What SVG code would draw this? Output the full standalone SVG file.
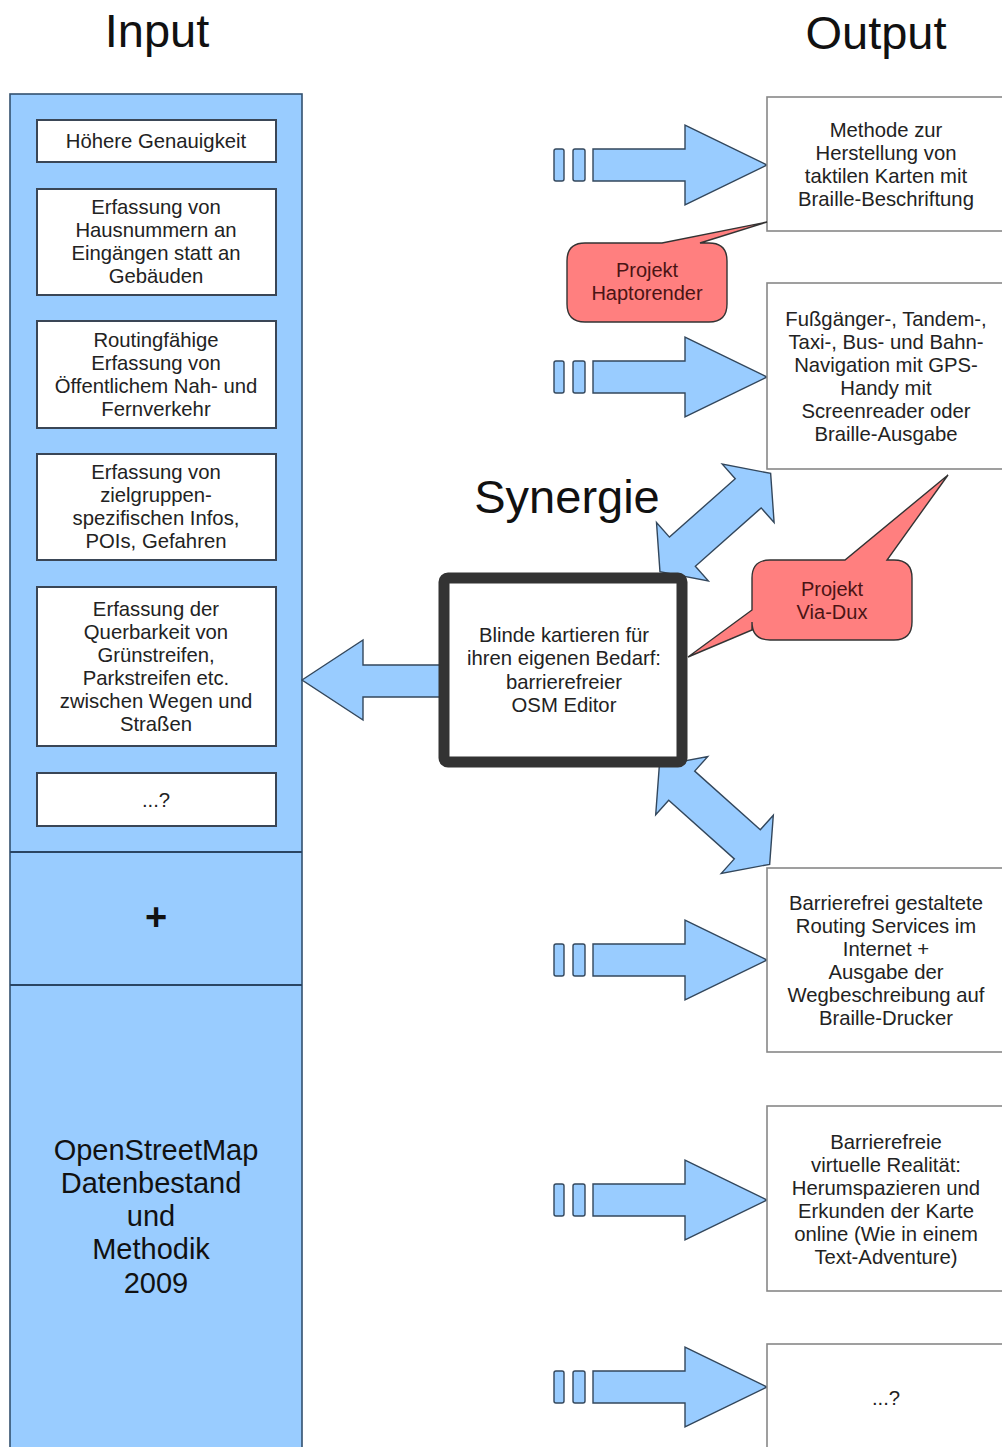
<svg xmlns="http://www.w3.org/2000/svg" width="1002" height="1447" viewBox="0 0 1002 1447">
<style>
text{font-family:"Liberation Sans",Arial,sans-serif;fill:#222;text-anchor:middle}
.t{font-size:20.3px}
.title{font-size:47px;fill:#111}
.blue{fill:#99ccff;stroke:#33516f;stroke-width:1.6}
.inbox{fill:#fff;stroke:#3a4656;stroke-width:2}
.outbox{fill:#fff;stroke:#888;stroke-width:1.6}
.arr{fill:#99ccff;stroke:#33475c;stroke-width:1.4;stroke-linejoin:miter}
.call{fill:#ff7f7f;stroke:#333;stroke-width:1.4}
.ct{font-size:20px;fill:#4a1414}
</style>
<defs>
<g id="fwd">
<rect class="arr" x="554" y="-16" width="10" height="32" rx="2"/>
<rect class="arr" x="573" y="-16" width="12" height="32" rx="2"/>
<path class="arr" d="M593 -16 H685 V-40 L767 0 L685 40 V16 H593 Z"/>
</g>
<path id="dbl" class="arr" d="M-74 0 L-44 -39 L-44 -19.5 L44 -19.5 L44 -39 L74 0 L44 39 L44 19.5 L-44 19.5 L-44 39 Z"/>
</defs>

<text class="title" x="157" y="47">Input</text>
<text class="title" x="876" y="49">Output</text>
<text class="title" x="567" y="513">Synergie</text>

<g id="input-panel">
<rect class="blue" x="10" y="94" width="292" height="1365"/>
<line x1="10" y1="852" x2="302" y2="852" stroke="#2a4563" stroke-width="2"/>
<line x1="10" y1="985" x2="302" y2="985" stroke="#2a4563" stroke-width="2"/>
<text x="156" y="930" style="font-size:38px;font-weight:bold;fill:#111">+</text>
<text x="156" y="1160" style="font-size:29px;fill:#111">OpenStreetMap</text>
<text x="151" y="1193" style="font-size:29px;fill:#111">Datenbestand</text>
<text x="151" y="1226" style="font-size:29px;fill:#111">und</text>
<text x="151" y="1259" style="font-size:29px;fill:#111">Methodik</text>
<text x="156" y="1293" style="font-size:29px;fill:#111">2009</text>
</g>

<g id="in1"><rect class="inbox" x="37" y="120" width="239" height="42"/>
<text class="t" x="156" y="148">Höhere Genauigkeit</text></g>
<g id="in2"><rect class="inbox" x="37" y="189" width="239" height="106"/>
<text class="t" x="156" y="214">Erfassung von</text>
<text class="t" x="156" y="237">Hausnummern an</text>
<text class="t" x="156" y="260">Eingängen statt an</text>
<text class="t" x="156" y="283">Gebäuden</text></g>
<g id="in3"><rect class="inbox" x="37" y="321" width="239" height="107"/>
<text class="t" x="156" y="347">Routingfähige</text>
<text class="t" x="156" y="370">Erfassung von</text>
<text class="t" x="156" y="393">Öffentlichem Nah- und</text>
<text class="t" x="156" y="416">Fernverkehr</text></g>
<g id="in4"><rect class="inbox" x="37" y="454" width="239" height="106"/>
<text class="t" x="156" y="479">Erfassung von</text>
<text class="t" x="156" y="502">zielgruppen-</text>
<text class="t" x="156" y="525">spezifischen Infos,</text>
<text class="t" x="156" y="548">POIs, Gefahren</text></g>
<g id="in5"><rect class="inbox" x="37" y="587" width="239" height="159"/>
<text class="t" x="156" y="616">Erfassung der</text>
<text class="t" x="156" y="639">Querbarkeit von</text>
<text class="t" x="156" y="662">Grünstreifen,</text>
<text class="t" x="156" y="685">Parkstreifen etc.</text>
<text class="t" x="156" y="708">zwischen Wegen und</text>
<text class="t" x="156" y="731">Straßen</text></g>
<g id="in6"><rect class="inbox" x="37" y="773" width="239" height="53"/>
<text class="t" x="156" y="807">...?</text></g>

<g id="connectors">
<use href="#fwd" transform="translate(0,165)"/>
<use href="#fwd" transform="translate(0,377)"/>
<use href="#fwd" transform="translate(0,960)"/>
<use href="#fwd" transform="translate(0,1200)"/>
<use href="#fwd" transform="translate(0,1387)"/>
<path class="arr" d="M302 680 L363 640 V665 H440 V697 H363 V720 Z"/>
<use href="#dbl" transform="translate(715.3,522.5) rotate(-41.6)"/>
<use href="#dbl" transform="translate(714.5,815) rotate(41.8)"/>
</g>

<g id="center">
<rect x="444" y="578" width="238" height="184" rx="4" fill="#fff" stroke="#333" stroke-width="11"/>
<text class="t" x="564" y="642">Blinde kartieren für</text>
<text class="t" x="564" y="665">ihren eigenen Bedarf:</text>
<text class="t" x="564" y="689">barrierefreier</text>
<text class="t" x="564" y="712">OSM Editor</text>
</g>

<g id="out1"><rect class="outbox" x="767" y="97" width="240" height="134"/>
<text class="t" x="886" y="137">Methode zur</text>
<text class="t" x="886" y="160">Herstellung von</text>
<text class="t" x="886" y="183">taktilen Karten mit</text>
<text class="t" x="886" y="206">Braille-Beschriftung</text></g>
<g id="out2"><rect class="outbox" x="767" y="283" width="240" height="186"/>
<text class="t" x="886" y="326">Fußgänger-, Tandem-,</text>
<text class="t" x="886" y="349">Taxi-, Bus- und Bahn-</text>
<text class="t" x="886" y="372">Navigation mit GPS-</text>
<text class="t" x="886" y="395">Handy mit</text>
<text class="t" x="886" y="418">Screenreader oder</text>
<text class="t" x="886" y="441">Braille-Ausgabe</text></g>
<g id="out3"><rect class="outbox" x="767" y="868" width="240" height="184"/>
<text class="t" x="886" y="910">Barrierefrei gestaltete</text>
<text class="t" x="886" y="933">Routing Services im</text>
<text class="t" x="886" y="956">Internet +</text>
<text class="t" x="886" y="979">Ausgabe der</text>
<text class="t" x="886" y="1002">Wegbeschreibung auf</text>
<text class="t" x="886" y="1025">Braille-Drucker</text></g>
<g id="out4"><rect class="outbox" x="767" y="1106" width="240" height="185"/>
<text class="t" x="886" y="1149">Barrierefreie</text>
<text class="t" x="886" y="1172">virtuelle Realität:</text>
<text class="t" x="886" y="1195">Herumspazieren und</text>
<text class="t" x="886" y="1218">Erkunden der Karte</text>
<text class="t" x="886" y="1241">online (Wie in einem</text>
<text class="t" x="886" y="1264">Text-Adventure)</text></g>
<g id="out5"><rect class="outbox" x="767" y="1344" width="240" height="120"/>
<text class="t" x="886" y="1405">...?</text></g>

<g id="callout-haptorender">
<path class="call" d="M585 243 H662 L767 222 L700 243 H709 Q727 243 727 261 V304 Q727 322 709 322 H585 Q567 322 567 304 V261 Q567 243 585 243 Z"/>
<text class="ct" x="647" y="277">Projekt</text>
<text class="ct" x="647" y="300">Haptorender</text>
</g>
<g id="callout-viadux">
<path class="call" d="M770 560 H845 L948 475 L887 560 H894 Q912 560 912 578 V622 Q912 640 894 640 H770 Q752 640 752 622 V630 L688 657 L752 610 V578 Q752 560 770 560 Z"/>
<text class="ct" x="832" y="596">Projekt</text>
<text class="ct" x="832" y="619">Via-Dux</text>
</g>
</svg>
